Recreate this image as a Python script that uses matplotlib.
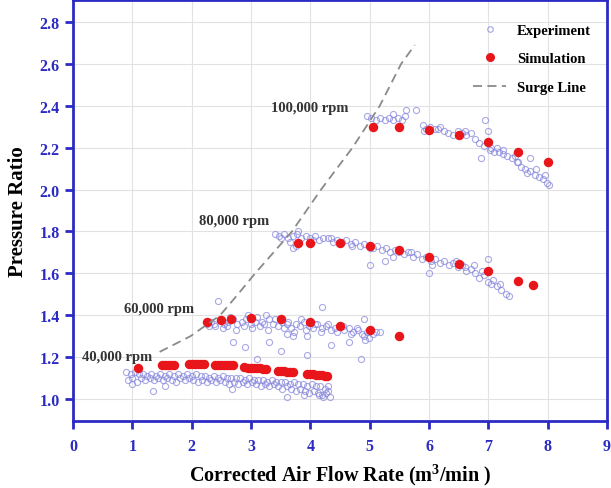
import matplotlib
matplotlib.use("Agg")
import matplotlib.pyplot as plt
from matplotlib.lines import Line2D

plt.rcParams['font.family'] = ['Liberation Serif', 'DejaVu Serif']
plt.rcParams['font.weight'] = 'bold'

# Experiment, 40,000 rpm
exp40_x = [0.90, 0.97, 1.04, 1.11, 1.18, 1.25, 1.32, 1.40, 1.47, 1.55, 1.62, 1.70, 1.77, 1.85, 1.92,
           2.00, 2.07, 2.15, 2.22, 2.30, 2.37, 2.45, 2.52, 2.60, 2.67, 2.75, 2.82, 2.90, 2.97, 3.05,
           3.12, 3.20, 3.27, 3.35, 3.42, 3.50, 3.57, 3.65, 3.72, 3.80, 3.87, 3.95, 4.02, 4.10, 4.17,
           4.25, 4.30,
           0.93, 1.00, 1.07, 1.15, 1.22, 1.29, 1.36, 1.44, 1.51, 1.58, 1.66, 1.73, 1.81, 1.88, 1.96,
           2.03, 2.11, 2.18, 2.26, 2.33, 2.41, 2.48, 2.56, 2.63, 2.71, 2.78, 2.86, 2.93, 3.01, 3.08,
           3.16, 3.23, 3.31, 3.38, 3.46, 3.53, 3.61, 3.68, 3.76, 3.83, 3.91, 3.98, 4.06, 4.13, 4.20,
           4.27, 4.33, 4.22, 4.15, 4.30,
           1.35, 1.55, 2.68, 3.60, 3.90, 1.00]
exp40_y = [1.13, 1.12, 1.13, 1.12, 1.12, 1.11, 1.12, 1.11, 1.12, 1.11, 1.12, 1.11, 1.12, 1.11, 1.12,
           1.11, 1.12, 1.11, 1.11, 1.10, 1.11, 1.10, 1.11, 1.10, 1.10, 1.10, 1.10, 1.09, 1.10, 1.09,
           1.09, 1.09, 1.08, 1.09, 1.08, 1.08, 1.08, 1.07, 1.08, 1.07, 1.07, 1.06, 1.07, 1.06, 1.06,
           1.05, 1.06,
           1.09, 1.10, 1.08, 1.10, 1.09, 1.10, 1.09, 1.10, 1.09, 1.10, 1.09, 1.08, 1.10, 1.09, 1.10,
           1.09, 1.08, 1.09, 1.08, 1.09, 1.08, 1.09, 1.08, 1.07, 1.08, 1.07, 1.08, 1.07, 1.08, 1.07,
           1.06, 1.07, 1.06, 1.07, 1.06, 1.05, 1.06, 1.05, 1.04, 1.05, 1.04, 1.03, 1.04, 1.03, 1.02,
           1.03, 1.01, 1.01, 1.02, 1.04,
           1.04, 1.06, 1.05, 1.01, 1.02, 1.07]

# Experiment, 60,000 rpm
exp60_x = [2.25, 2.32, 2.40, 2.47, 2.55, 2.62, 2.70, 2.77, 2.85, 2.92, 3.00, 3.07, 3.15, 3.22, 3.30,
           3.37, 3.45, 3.52, 3.60, 3.67, 3.75, 3.82, 3.90, 3.97, 4.05, 4.12, 4.20, 4.27, 4.35, 4.42,
           4.50, 4.57, 4.65, 4.72, 4.80, 4.87, 4.95, 5.02, 5.10, 5.18,
           2.30, 2.38, 2.52, 2.60, 2.75, 2.88, 3.02, 3.10, 3.18, 3.28, 3.40, 3.55, 3.62, 3.72, 3.85,
           3.93, 4.08, 4.18, 4.30, 4.45, 4.55, 4.68, 4.78, 4.90, 4.98, 5.05, 4.92, 2.95, 3.25, 2.65,
           2.45, 2.70, 2.90, 3.10, 3.30, 3.50, 3.60, 3.70, 3.95, 3.95, 4.20, 4.35, 4.65, 4.85, 4.90]
exp60_y = [1.36, 1.37, 1.35, 1.38, 1.36, 1.37, 1.38, 1.36, 1.37, 1.38, 1.36, 1.37, 1.35, 1.36, 1.38,
           1.36, 1.35, 1.37, 1.36, 1.34, 1.36, 1.35, 1.37, 1.35, 1.34, 1.36, 1.34, 1.35, 1.33, 1.34,
           1.35, 1.33, 1.34, 1.32, 1.33, 1.31, 1.32, 1.33, 1.32, 1.32,
           1.35, 1.36, 1.34, 1.35, 1.33, 1.35, 1.34, 1.39, 1.37, 1.33, 1.38, 1.34, 1.37, 1.32, 1.38,
           1.33, 1.36, 1.32, 1.36, 1.32, 1.35, 1.31, 1.34, 1.30, 1.29, 1.31, 1.28, 1.40, 1.40, 1.39,
           1.47, 1.27, 1.25, 1.19, 1.27, 1.23, 1.31, 1.30, 1.21, 1.30, 1.44, 1.26, 1.27, 1.19, 1.38]

# Experiment, 80,000 rpm
exp80_x = [3.40, 3.47, 3.55, 3.62, 3.70, 3.77, 3.85, 3.92, 4.00, 4.08, 4.15, 4.22, 4.30, 4.38, 4.45,
           4.53, 4.60, 4.68, 4.75, 4.83, 4.90, 4.98, 5.05, 5.13, 5.20, 5.28, 5.35, 5.43, 5.50, 5.58,
           5.65, 5.73, 5.80, 5.88, 5.95, 6.03, 6.10, 6.18, 6.25, 6.33, 6.40, 6.48, 6.55, 6.63, 6.70,
           6.78, 6.85, 6.93, 7.00, 7.08, 7.15, 7.22, 7.30, 7.35,
           3.50, 3.65, 3.80, 4.05, 4.35, 4.70, 5.00, 5.40, 5.70, 6.05, 6.45, 6.60, 6.90, 7.05, 7.20,
           6.75, 3.75, 5.00, 5.25, 6.00, 7.00, 3.70]
exp80_y = [1.79, 1.78, 1.79, 1.77, 1.78, 1.79, 1.77, 1.78, 1.77, 1.78, 1.76, 1.77, 1.77, 1.75, 1.76,
           1.75, 1.76, 1.74, 1.75, 1.73, 1.74, 1.73, 1.72, 1.73, 1.71, 1.72, 1.70, 1.71, 1.70, 1.69,
           1.70, 1.68, 1.69, 1.67, 1.68, 1.66, 1.67, 1.65, 1.66, 1.64, 1.65, 1.63, 1.64, 1.61, 1.62,
           1.60, 1.58, 1.59, 1.56, 1.57, 1.54, 1.52, 1.50, 1.49,
           1.77, 1.75, 1.80, 1.76, 1.77, 1.73, 1.72, 1.68, 1.70, 1.64, 1.66, 1.63, 1.61, 1.55, 1.55,
           1.64, 1.73, 1.64, 1.66, 1.60, 1.67, 1.72]

# Experiment, 100,000 rpm
exp100_x = [4.95, 5.02, 5.10, 5.17, 5.25, 5.32, 5.40, 5.47, 5.55, 5.60, 5.62, 5.78, 5.90, 5.95, 6.02,
            6.10, 6.18, 6.25, 6.32, 6.40, 6.48, 6.55, 6.62, 6.70, 6.78, 6.85, 6.92, 6.95, 7.00, 7.02,
            7.10, 7.18, 7.25, 7.32, 7.40, 7.48, 7.55, 7.62, 7.70, 7.78, 7.85, 7.92, 7.98, 8.02, 6.88,
            5.40, 5.92, 6.15, 6.60, 7.05, 7.15, 7.45, 7.70, 7.65, 7.80, 7.95, 7.50, 7.25]
exp100_y = [2.35, 2.34, 2.33, 2.34, 2.33, 2.34, 2.33, 2.34, 2.33, 2.35, 2.38, 2.38, 2.31, 2.29, 2.30,
            2.29, 2.30, 2.28, 2.27, 2.26, 2.28, 2.27, 2.26, 2.27, 2.24, 2.22, 2.21, 2.33, 2.28, 2.19,
            2.18, 2.18, 2.17, 2.16, 2.15, 2.13, 2.11, 2.10, 2.09, 2.07, 2.06, 2.05, 2.03, 2.02, 2.15,
            2.36, 2.28, 2.29, 2.28, 2.20, 2.20, 2.16, 2.15, 2.08, 2.10, 2.07, 2.13, 2.19]

# Simulation
sim40_x = [1.10, 1.50, 1.55, 1.60, 1.65, 1.70, 1.95, 2.00, 2.05, 2.10, 2.15, 2.20,
           2.40, 2.45, 2.50, 2.55, 2.60, 2.65, 2.70, 2.88, 2.95, 3.00, 3.05, 3.10, 3.15, 3.20, 3.25,
           3.45, 3.50, 3.55, 3.60, 3.65, 3.70, 3.95, 4.00, 4.05, 4.10, 4.15, 4.20, 4.25, 4.28]
sim40_y = [1.150, 1.160, 1.160, 1.160, 1.160, 1.160, 1.165, 1.165, 1.165, 1.165, 1.165, 1.165,
           1.160, 1.160, 1.160, 1.160, 1.160, 1.160, 1.160, 1.155, 1.150, 1.150, 1.148, 1.147, 1.146,
           1.145, 1.143, 1.135, 1.133, 1.132, 1.131, 1.130, 1.128, 1.120, 1.119, 1.118, 1.117, 1.116,
           1.114, 1.112, 1.110]
sim60_x = [2.25, 2.50, 2.67, 3.00, 3.50, 4.00, 4.50, 5.00, 5.50]
sim60_y = [1.370, 1.375, 1.380, 1.385, 1.380, 1.370, 1.350, 1.330, 1.300]
sim80_x = [3.80, 4.00, 4.50, 5.00, 5.50, 6.00, 6.50, 7.00, 7.50, 7.75]
sim80_y = [1.745, 1.745, 1.745, 1.730, 1.710, 1.680, 1.645, 1.610, 1.565, 1.545]
sim100_x = [5.05, 5.50, 6.00, 6.50, 7.00, 7.50, 8.00]
sim100_y = [2.300, 2.300, 2.285, 2.260, 2.225, 2.180, 2.130]

# Surge line
surge_x = [1.46, 1.98, 2.48, 2.75, 3.07, 3.69, 4.18, 4.71, 5.17, 5.53, 5.76]
surge_y = [1.225, 1.300, 1.400, 1.490, 1.600, 1.800, 2.000, 2.200, 2.400, 2.600, 2.690]

speed_labels = ["40,000 rpm", "60,000 rpm", "80,000 rpm", "100,000 rpm"]
speed_label_x = [0.74, 1.45, 2.71, 3.99]
speed_label_y = [1.205, 1.433, 1.85, 2.39]

blue = '#2b2bc4'
exp_color = '#8585dc'
sim_color = '#e8151b'
surge_color = '#8a8a8a'

fig = plt.figure(figsize=(6.11, 4.89), dpi=100)
ax = fig.add_axes([0.1195, 0.137, 0.874, 0.861])

ax.grid(True, color='#e2e2e2', linewidth=0.8)
ax.set_axisbelow(True)

for xs, ys in [(exp40_x, exp40_y), (exp60_x, exp60_y), (exp80_x, exp80_y), (exp100_x, exp100_y)]:
    ax.plot(xs, ys, 'o', mfc='none', mec=exp_color, ms=4.4, mew=0.8, alpha=0.7)

for xs, ys in [(sim40_x, sim40_y), (sim60_x, sim60_y), (sim80_x, sim80_y), (sim100_x, sim100_y)]:
    ax.plot(xs, ys, 'o', color=sim_color, ms=6.8, mew=0)

ax.plot(surge_x, surge_y, '--', color=surge_color, lw=1.3, dashes=(5, 3))

for t, x, y in zip(speed_labels, speed_label_x, speed_label_y):
    ax.text(x, y, t, ha='center', va='center', fontsize=10.5, fontweight='bold', color='#333333')

ax.set_xlim(0, 9)
ax.set_ylim(0.895, 2.905)
ax.set_xticks(range(0, 10))
ax.set_yticks([1.0, 1.2, 1.4, 1.6, 1.8, 2.0, 2.2, 2.4, 2.6, 2.8])
ax.set_yticklabels(['1.0', '1.2', '1.4', '1.6', '1.8', '2.0', '2.2', '2.4', '2.6', '2.8'])

for s in ax.spines.values():
    s.set_color(blue)
    s.set_linewidth(2)
ax.tick_params(direction='out', color=blue, labelcolor=blue, width=2, length=6, labelsize=11.5)
ax.tick_params(axis='x', pad=6)
for lab in ax.get_xticklabels() + ax.get_yticklabels():
    lab.set_fontweight('bold')

ax.set_xlabel('Corrected Air Flow Rate (m$^\\mathregular{3}$/min )', fontsize=14.5, fontweight='bold', labelpad=5)
ax.set_ylabel('Pressure Ratio', fontsize=15, fontweight='bold', labelpad=8)

handles = [
    Line2D([], [], ls='none', marker='o', mfc='none', mec=exp_color, ms=4, mew=0.8, alpha=0.75),
    Line2D([], [], ls='none', marker='o', color=sim_color, ms=6.5, mew=0),
    Line2D([], [], ls='--', color=surge_color, lw=1.3, dashes=(5, 3)),
]
ax.legend(handles, ['Experiment', 'Simulation', 'Surge Line'], loc='upper right',
          bbox_to_anchor=(0.995, 0.975), frameon=False, handlelength=2.2,
          labelspacing=1.05, prop={'weight': 'bold', 'size': 10.5})

fig.savefig('out.png', dpi=100)
